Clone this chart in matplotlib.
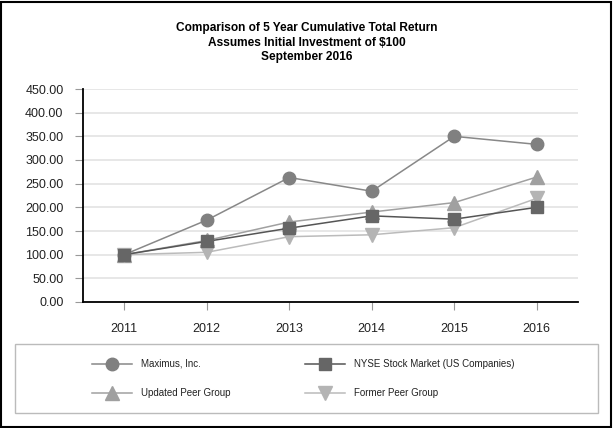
import matplotlib
matplotlib.use("Agg")
import matplotlib.pyplot as plt
from matplotlib.patches import Rectangle

plt.rcParams['font.family'] = ['Liberation Sans', 'DejaVu Sans']

years = ["2011", "2012", "2013", "2014", "2015", "2016"]
maximus = [100, 173, 263, 234, 350, 333]
nyse = [100, 128, 156, 182, 175, 200]
updated_peer = [100, 130, 169, 190, 210, 264]
former_peer = [100, 105, 138, 142, 157, 219]
yticks = [0, 50, 100, 150, 200, 250, 300, 350, 400, 450]

W, H = 613, 428
fig = plt.figure(figsize=(W / 100, H / 100), dpi=100)
ax = fig.add_axes([83 / W, 1 - 302 / H, (578 - 83) / W, (302 - 89) / H])

x = list(range(len(years)))
series = [
    ("Maximus, Inc.", maximus, "o", "#888888", "#808080", 9),
    ("NYSE Stock Market (US Companies)", nyse, "s", "#555555", "#666666", 9),
    ("Updated Peer Group", updated_peer, "^", "#a0a0a0", "#a0a0a0", 9.5),
    ("Former Peer Group", former_peer, "v", "#bbbbbb", "#b4b4b4", 9.5),
]
handles = {}
for label, vals, m, lc, mc, ms in series:
    h, = ax.plot(x, vals, color=lc, lw=1.1, marker=m, markersize=ms,
                 markerfacecolor=mc, markeredgecolor=mc, label=label, zorder=3)
    handles[label] = h
handles["NYSE Stock Market (US Companies)"].set_zorder(5)

ax.set_xlim(-0.5, 5.5)
ax.set_ylim(0, 450)
ax.set_yticks(yticks)
ax.set_yticklabels([f"{v:.2f}" for v in yticks], fontsize=9, color="#222222")
ax.set_xticks(x)
ax.set_xticklabels(years, fontsize=9, color="#222222")
ax.grid(axis="y", color="#e3e3e3", lw=1.2)
ax.set_axisbelow(True)
for s in ["top", "right"]:
    ax.spines[s].set_visible(False)
ax.spines["left"].set_color("black")
ax.spines["bottom"].set_color("black")
ax.spines["left"].set_linewidth(1.3)
ax.spines["bottom"].set_linewidth(1.3)
ax.tick_params(axis="y", length=6, color="#999999", pad=8)
ax.tick_params(axis="x", length=6, color="#999999", pad=9)

fig.text(0.5, 1 - 22 / H, "Comparison of 5 Year Cumulative Total Return\n"
         "Assumes Initial Investment of $100\nSeptember 2016",
         ha="center", va="top", fontsize=8.6, fontweight="bold",
         linespacing=1.3)

# outer border
fig.add_artist(Rectangle((1 / W, 1 / H), (W - 3) / W, (H - 3) / H,
                         transform=fig.transFigure, fill=False,
                         edgecolor="black", lw=1.5))
# legend box
fig.add_artist(Rectangle((15 / W, 1 - 413 / H), (598 - 15) / W, (413 - 344) / H,
                         transform=fig.transFigure, fill=False,
                         edgecolor="#bbbbbb", lw=1))

order = ["Maximus, Inc.", "Updated Peer Group",
         "NYSE Stock Market (US Companies)", "Former Peer Group"]
leg = fig.legend([handles[k] for k in order], order, ncol=2,
                 loc="upper left", bbox_to_anchor=(92 / W, 1 - 359 / H),
                 frameon=False, fontsize=7, handlelength=4.1,
                 handletextpad=0.9, columnspacing=7.7, labelspacing=1.95,
                 borderpad=0, borderaxespad=0)
for t in leg.get_texts():
    t.set_color("#222222")

fig.savefig("out.png", dpi=100)
